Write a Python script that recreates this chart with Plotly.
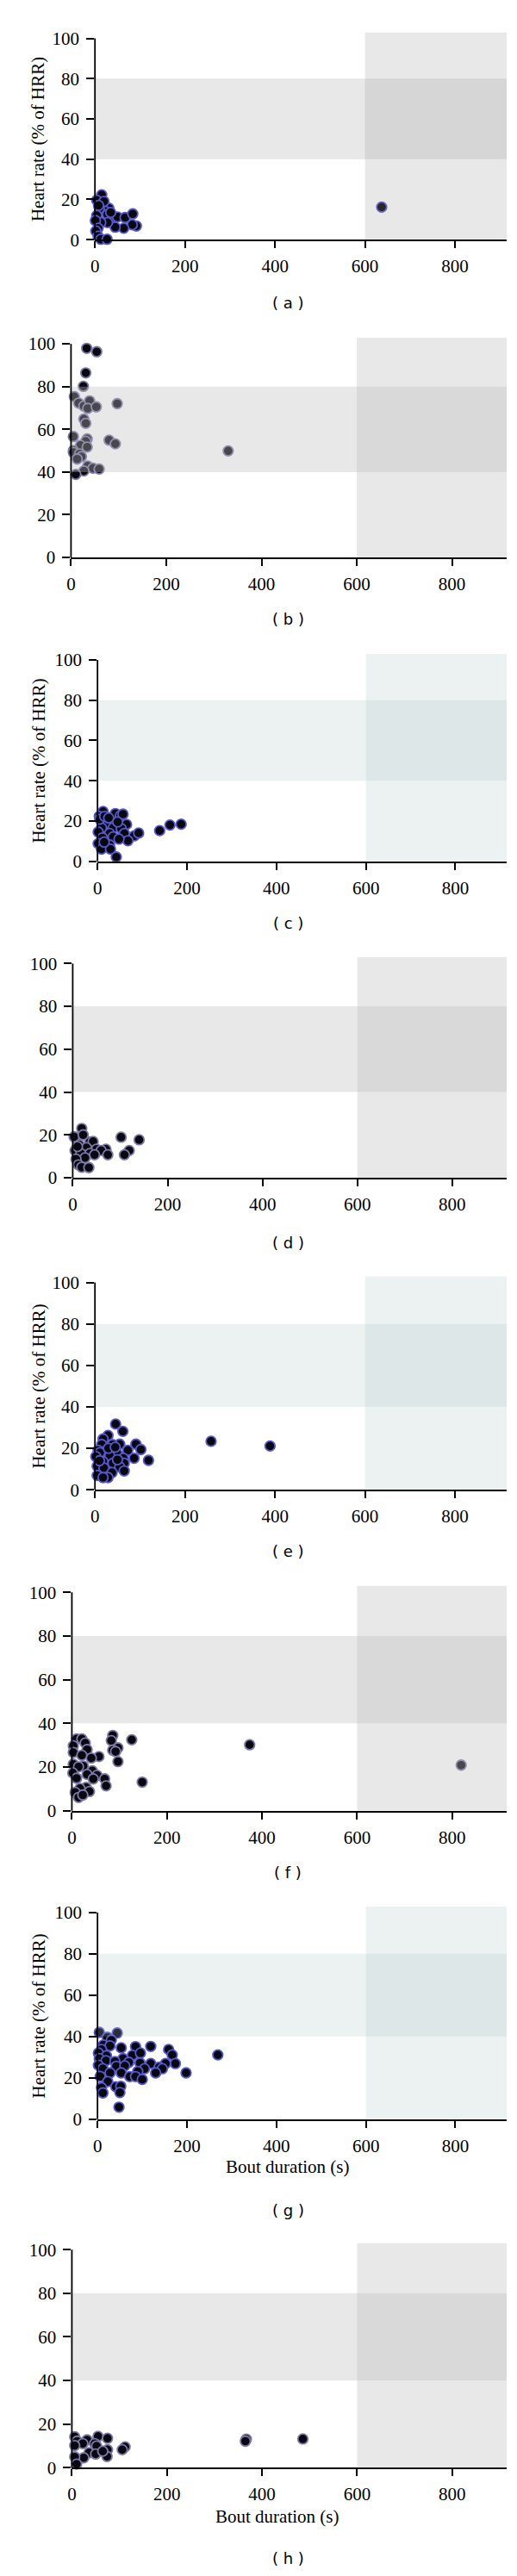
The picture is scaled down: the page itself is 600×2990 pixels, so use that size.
import plotly.graph_objects as go

# ---------------- data (bout duration s, heart rate %HRR) ----------------
xa = [15, 4, 17, 31, 22, 10, 4, 28, 40, 50, 67, 84, 92, 83, 64, 45, 28, 13, 1, 7, 2, 7, 13, 27, 20, 35, 8, 637]
ya = [22.3, 19.6, 17.7, 15.6, 14.2, 15.6, 12.0, 12.5, 11.3, 11.3, 11.0, 12.8, 6.8, 7.4, 5.7, 6.2, 8.5, 8.5, 9.5, 5.7, 4.3, 1.7, 0.2, 0.2, 19.0, 13.5, 17.0, 16.2]

xb = [33, 54, 31, 26, 7, 16, 27, 39, 35, 53, 97, 27, 31, 5, 34, 31, 80, 93, 20, 34, 5, 5, 18, 22, 13, 330, 35, 46, 59, 27, 10]
yb = [97.9, 96.3, 86.4, 80.1, 75.3, 72.3, 70.9, 73.3, 69.8, 70.5, 72.0, 64.8, 62.8, 56.6, 55.5, 54.4, 54.9, 53.2, 52.5, 51.7, 50.1, 49.2, 48.5, 47.2, 46.1, 49.9, 42.8, 41.8, 41.4, 40.5, 38.9]

xc = [12.5, 4, 40, 51, 57, 20, 65, 9, 35, 53, 1.5, 27, 60, 82, 92, 11, 35, 68, 1.5, 27, 9, 29, 42, 139, 162, 187, 5, 16, 25, 45, 15, 48]
yc = [24.7, 22.3, 23.7, 22.6, 23.4, 19.1, 18.3, 16.6, 16.6, 16.2, 14.5, 13.8, 13.8, 12.6, 14.0, 11.6, 12.1, 10.2, 8.8, 8.1, 6.0, 6.0, 2.1, 15.2, 18.0, 18.4, 20.9, 22.3, 21.5, 19.5, 9.5, 11.0]

xd = [19, 8, 3, 102, 140, 36, 43, 14, 5, 29, 50, 70, 60, 119, 109, 74, 36, 17, 46, 26, 7, 12, 19, 34, 22, 10]
yd = [23.0, 18.3, 19.1, 18.9, 17.7, 16.7, 16.9, 15.3, 12.7, 14.0, 13.3, 13.3, 12.7, 12.7, 10.7, 10.7, 11.3, 11.3, 10.7, 9.3, 8.7, 6.0, 4.9, 4.7, 20.0, 14.5]

xe = [46, 62, 29, 18, 258, 389, 55, 91, 39, 15, 102, 73, 7, 25, 49, 11, 33, 2, 63, 87, 119, 18, 40, 65, 5, 20, 55, 65, 38, 5, 29, 18, 30, 45, 10, 50]
ye = [31.7, 28.2, 26.2, 24.5, 23.4, 21.1, 22.0, 22.0, 21.8, 21.8, 19.4, 19.0, 19.0, 18.7, 17.6, 17.9, 16.3, 16.0, 15.2, 15.2, 14.2, 13.5, 12.8, 12.8, 11.4, 10.5, 11.0, 9.1, 8.3, 6.9, 5.9, 5.9, 20.0, 20.5, 14.0, 14.5]

xf = [86, 10, 21, 126, 83, 28, 3, 97, 32, 86, 92, 374, 3, 21, 57, 41, 97, 819, 3, 24, 14, 43, 2, 32, 53, 10, 45, 69, 148, 72, 30, 17, 37, 7, 14, 23]
yf = [34.5, 32.9, 32.9, 32.5, 32.1, 31.0, 29.7, 28.8, 28.0, 27.7, 27.1, 30.2, 26.7, 25.4, 24.8, 24.1, 22.5, 20.9, 21.3, 20.5, 20.1, 18.3, 17.3, 16.6, 16.2, 14.9, 14.6, 14.6, 13.1, 11.4, 10.7, 10.2, 8.8, 8.4, 6.1, 7.2]

xg = [4, 44, 22, 31, 13, 28, 53, 85, 119, 159, 9, 2, 20, 167, 269, 78, 96, 57, 4, 19, 39, 70, 95, 119, 174, 152, 2, 42, 61, 138, 105, 12, 145, 28, 53, 130, 198, 90, 6, 72, 85, 100, 23, 41, 52, 9, 12, 50, 48]
yg = [42.0, 41.7, 39.6, 38.3, 35.9, 35.5, 34.5, 35.1, 35.2, 33.7, 33.7, 32.0, 30.7, 31.1, 31.1, 30.9, 32.0, 29.3, 29.3, 28.3, 27.9, 27.5, 27.2, 26.9, 26.9, 26.9, 26.1, 25.6, 25.8, 25.1, 24.4, 24.4, 24.4, 22.4, 22.4, 22.4, 22.4, 23.1, 20.7, 20.6, 20.6, 19.2, 18.2, 15.7, 15.9, 15.2, 12.7, 12.9, 5.8]

xh = [6, 55, 75, 32, 11, 367, 365, 486, 23, 48, 52, 6, 112, 106, 75, 36, 50, 74, 25, 6, 10, 65]
yh = [14.2, 14.4, 13.5, 12.8, 12.2, 13.1, 12.2, 13.2, 11.1, 11.1, 10.0, 10.2, 9.6, 8.3, 8.3, 6.9, 6.3, 5.2, 4.6, 5.0, 1.7, 7.6]

panel_names = ["a", "b", "c", "d", "e", "f", "g", "h"]
xs = [xa, xb, xc, xd, xe, xf, xg, xh]
ys = [ya, yb, yc, yd, ye, yf, yg, yh]

x_ticks = [0, 200, 400, 600, 800]
y_ticks = [0, 20, 40, 60, 80, 100]
x_max = 915
y_top = 103
band_low, band_high = 40, 80
bout_min = 600

# ---------------- layout geometry (pixels) ----------------
W, H = 600, 2990
right_px = 580
# (left px of x=0, px of y=0, px of y=100, label y px)
geom = [
    (98, 266.7, 31.7, 340),
    (70, 637.7, 388.3, 710),
    (101, 992.3, 757.3, 1065),
    (72, 1361.7, 1111.7, 1438),
    (98, 1726.0, 1484.0, 1798),
    (71, 2100.7, 1845.7, 2173),
    (101, 2460.7, 2219.5, 2567),
    (71, 2867.7, 2613.0, 2973),
]
left_panel = [True, False, True, False, True, False, True, False]

blue_line = "rgb(88,88,205)"
grey_line = "rgb(125,120,165)"
band_blue = "rgba(164,193,193,0.21)"
band_grey_a = "rgba(150,150,150,0.22)"
band_grey = "rgba(189,189,192,0.35)"
band_colors = [band_grey_a, band_grey, band_blue, band_grey, band_blue, band_grey, band_blue, band_grey]
line_colors = [blue_line, grey_line, blue_line, grey_line, blue_line, grey_line, blue_line, grey_line]

serif = "Liberation Serif"
tick_font = dict(family=serif, size=21, color="black")

fig = go.Figure()
layout = dict(
    width=W, height=H, margin=dict(l=0, r=0, t=0, b=0),
    paper_bgcolor="white", plot_bgcolor="white", showlegend=False,
)
shapes = []
annotations = []

for i in range(8):
    n = "" if i == 0 else str(i + 1)
    x0px, y0px, y100px, lab_px = geom[i]
    top_px = y100px - (y_top - 100) * (y0px - y100px) / 100
    dom_x = [x0px / W, right_px / W]
    dom_y = [1 - y0px / H, 1 - top_px / H]

    fig.add_trace(go.Scatter(
        x=xs[i], y=ys[i], mode="markers", xaxis="x" + n, yaxis="y" + n,
        cliponaxis=False,
        marker=dict(size=11.5, color="rgb(8,8,16)", line=dict(color=line_colors[i], width=1.8)),
        hoverinfo="skip",
    ))

    layout["xaxis" + n] = dict(
        domain=dom_x, range=[0, x_max], anchor="y" + n,
        tickmode="array", tickvals=x_ticks, ticktext=[str(v) for v in x_ticks],
        ticks="outside", ticklen=8, tickwidth=1.5, tickcolor="black",
        showline=True, linecolor="black", linewidth=1.8,
        showgrid=False, zeroline=False, tickfont=tick_font, ticklabelstandoff=3,
    )
    layout["yaxis" + n] = dict(
        domain=dom_y, range=[0, y_top], anchor="x" + n,
        tickmode="array", tickvals=y_ticks, ticktext=[str(v) for v in y_ticks],
        ticks="outside", ticklen=9, tickwidth=1.5, tickcolor="black",
        showline=False, showgrid=False, zeroline=False, tickfont=tick_font,
        ticklabelstandoff=4,
    )

    xr, yr = "x" + n, "y" + n
    # horizontal 40-80 % HRR band
    shapes.append(dict(type="rect", xref=xr, yref=yr, x0=0, x1=x_max, y0=band_low, y1=band_high,
                       fillcolor=band_colors[i], line=dict(width=0), layer="above"))
    # vertical >= 600 s band
    shapes.append(dict(type="rect", xref=xr, yref=yr, x0=bout_min, x1=x_max, y0=0, y1=y_top,
                       fillcolor=band_colors[i], line=dict(width=0), layer="above"))
    # y-axis line from 0 to 100
    shapes.append(dict(type="line", xref=xr + " domain", yref=yr + " domain",
                       x0=0, x1=0, y0=0, y1=100 / y_top,
                       line=dict(color="black", width=1.8), layer="above"))

    if left_panel[i]:
        annotations.append(dict(
            text="Heart rate (% of HRR)", xref="paper", yref=yr, x=32 / W, y=50,
            textangle=-90, showarrow=False, xanchor="center", yanchor="middle",
            font=dict(family=serif, size=21, color="black"),
        ))
    annotations.append(dict(
        text="( %s )" % panel_names[i], xref="paper", yref="paper",
        x=324 / W, y=1 - lab_px / H, showarrow=False, xanchor="center", yanchor="middle",
        font=dict(family="DejaVu Sans", size=18, color="black"),
    ))

# x-axis titles for the bottom two panels
annotations.append(dict(text="Bout duration (s)", xref="paper", yref="paper",
                        x=323 / W, y=1 - 2516 / H, showarrow=False,
                        xanchor="center", yanchor="middle",
                        font=dict(family=serif, size=21, color="black")))
annotations.append(dict(text="Bout duration (s)", xref="paper", yref="paper",
                        x=311 / W, y=1 - 2925 / H, showarrow=False,
                        xanchor="center", yanchor="middle",
                        font=dict(family=serif, size=21, color="black")))

layout["shapes"] = shapes
layout["annotations"] = annotations
fig.update_layout(**layout)
fig.write_html("out.html")
